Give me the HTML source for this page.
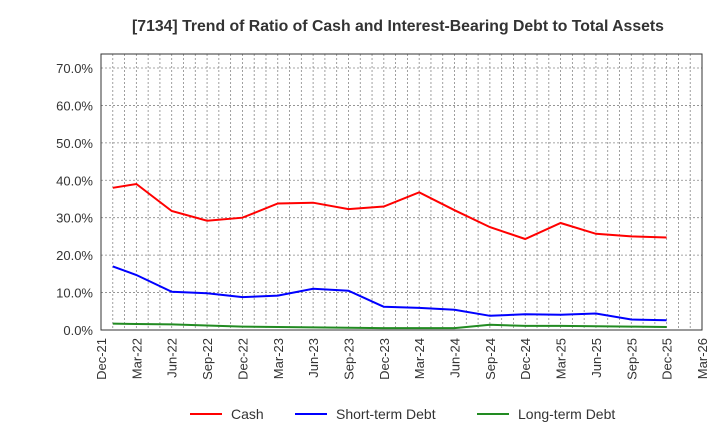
<!DOCTYPE html>
<html><head><meta charset="utf-8"><style>
body{margin:0;background:#fff;}
svg{display:block;font-family:"Liberation Sans",sans-serif;}
</style></head><body>
<svg id="s" width="720" height="440" viewBox="0 0 720 440" xmlns="http://www.w3.org/2000/svg">
<text x="398" y="31" text-anchor="middle" font-size="15.8" font-weight="bold" fill="#333">[7134]  Trend of Ratio of Cash and Interest-Bearing Debt to Total Assets</text>
<g id="grid"></g>
<rect x="101" y="54" width="601" height="276" fill="none" stroke="#333" stroke-width="1"/>
<g id="lab" font-size="13" fill="#333"></g>
<polyline fill="none" stroke="#ff0000" stroke-width="2" points="112.8,187.8 136.4,184.0 171.7,211.0 207.1,220.7 242.4,217.7 277.8,203.5 313.1,202.7 348.5,209.1 383.8,206.5 419.2,192.3 454.5,210.2 489.9,227.1 525.2,239.0 560.6,223.0 595.9,233.8 631.3,236.4 666.6,237.5"/>
<polyline fill="none" stroke="#0000ff" stroke-width="2" points="112.8,266.4 136.4,275.0 171.7,291.8 207.1,293.3 242.4,297.1 277.8,295.6 313.1,288.8 348.5,290.7 383.8,306.8 419.2,307.9 454.5,309.8 489.9,315.8 525.2,314.3 560.6,314.7 595.9,313.5 631.3,319.5 666.6,320.3"/>
<polyline fill="none" stroke="#228B22" stroke-width="2" points="112.8,323.6 136.4,324.0 171.7,324.4 207.1,325.5 242.4,326.6 277.8,327.0 313.1,327.4 348.5,327.8 383.8,328.1 419.2,328.1 454.5,328.1 489.9,324.8 525.2,325.9 560.6,325.9 595.9,326.3 631.3,326.6 666.6,327.0"/>
<g font-size="14" fill="#333">
<line x1="190" y1="414" x2="222" y2="414" stroke="#ff0000" stroke-width="2"/><text x="231" y="419">Cash</text>
<line x1="295" y1="414" x2="327" y2="414" stroke="#0000ff" stroke-width="2"/><text x="336" y="419">Short-term Debt</text>
<line x1="477" y1="414" x2="509" y2="414" stroke="#228B22" stroke-width="2"/><text x="518" y="419">Long-term Debt</text>
</g>
</svg>
<script>
var ns="http://www.w3.org/2000/svg",g=document.getElementById("grid"),lab=document.getElementById("lab");
function el(t,a,p,txt){var e=document.createElementNS(ns,t);for(var k in a)e.setAttribute(k,a[k]);if(txt)e.textContent=txt;p.appendChild(e);return e;}
var dx=601/51;
for(var m=1;m<51;m++){var x=101+dx*m;el("line",{x1:x,x2:x,y1:54,y2:330,stroke:"#888","stroke-width":0.8,"stroke-dasharray":"2,2"},g);}
for(var v=10;v<=70;v+=10){var y=330-3.743*v;el("line",{x1:101,x2:702,y1:y,y2:y,stroke:"#888","stroke-width":0.8,"stroke-dasharray":"2,2"},g);}
for(var v=0;v<=70;v+=10){var y=330-3.743*v;el("text",{x:93,y:y+5,"text-anchor":"end"},lab,v.toFixed(1)+"%");}
var mn=["Dec","Mar","Jun","Sep"];
for(var q=0;q<=17;q++){var x=101+dx*3*q;var yr=21+Math.floor((q+3)/4);var name=mn[q%4]+"-"+yr;
el("text",{x:0,y:0,"text-anchor":"end",transform:"translate("+(x+5)+",338) rotate(-90)"},lab,name);}
</script>
</body></html>
